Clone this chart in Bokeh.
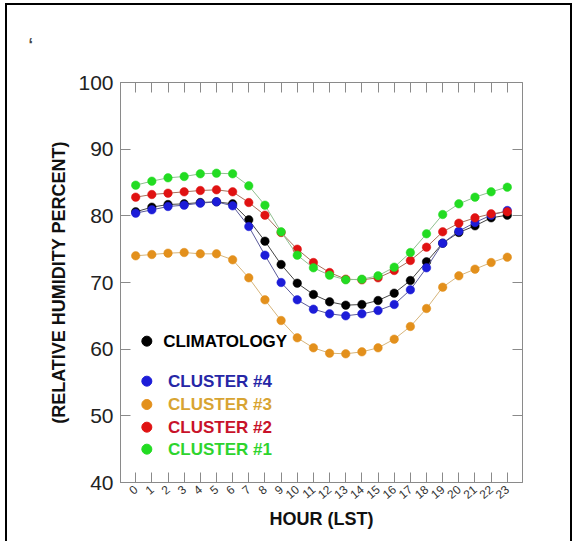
from bokeh.plotting import figure
from bokeh.models import LinearAxis, FixedTicker, Range1d, ColumnDataSource
from bokeh.core.properties import value
from bokeh.embed import file_html
from bokeh.resources import INLINE

# ---------------- data ----------------
hours = list(range(24))
hour_labels = [str(h) for h in hours]

climatology = [80.6, 81.3, 81.7, 81.8, 82.0, 82.1, 81.8, 79.4, 76.2, 72.7, 69.9, 68.2,
               67.1, 66.6, 66.7, 67.3, 68.4, 70.3, 73.1, 75.9, 77.5, 78.5, 79.7, 80.1]
cluster4 = [80.4, 80.9, 81.4, 81.6, 81.9, 82.1, 81.5, 78.4, 74.1, 70.0, 67.4, 66.0,
            65.3, 65.0, 65.3, 65.8, 66.7, 68.9, 72.2, 75.9, 77.7, 79.0, 80.1, 80.8]
cluster3 = [74.0, 74.2, 74.4, 74.5, 74.3, 74.3, 73.4, 70.7, 67.4, 64.3, 61.7, 60.2,
            59.4, 59.3, 59.6, 60.2, 61.5, 63.4, 66.1, 69.3, 71.0, 72.0, 73.0, 73.8]
cluster2 = [82.8, 83.2, 83.4, 83.6, 83.8, 83.9, 83.6, 82.0, 80.1, 77.5, 75.0, 73.0,
            71.5, 70.5, 70.4, 70.7, 71.8, 73.3, 75.3, 77.6, 78.9, 79.7, 80.3, 80.6]
cluster1 = [84.6, 85.2, 85.7, 85.9, 86.3, 86.4, 86.3, 84.5, 81.6, 77.6, 74.1, 72.2,
            71.1, 70.4, 70.5, 71.0, 72.3, 74.5, 77.3, 80.2, 81.8, 82.8, 83.6, 84.3]

series_names = ["CLIMATOLOGY", "CLUSTER #4", "CLUSTER #3", "CLUSTER #2", "CLUSTER #1"]
y_ticks = [40, 50, 60, 70, 80, 90, 100]

# ---------------- styles ----------------
FONT = "Liberation Sans"
dot_colors = {"CLIMATOLOGY": "#000000", "CLUSTER #4": "#1c1cd8", "CLUSTER #3": "#e3901c",
              "CLUSTER #2": "#e01212", "CLUSTER #1": "#22dc22"}
line_colors = {"CLIMATOLOGY": "#444444", "CLUSTER #4": "#5a5a9a", "CLUSTER #3": "#d6b47a",
               "CLUSTER #2": "#a8705a", "CLUSTER #1": "#8fbf8f"}
text_colors = {"CLIMATOLOGY": "#000000", "CLUSTER #4": "#2626a6", "CLUSTER #3": "#d8a432",
               "CLUSTER #2": "#c8122a", "CLUSTER #1": "#2ed42e"}
series = {"CLIMATOLOGY": climatology, "CLUSTER #4": cluster4, "CLUSTER #3": cluster3,
          "CLUSTER #2": cluster2, "CLUSTER #1": cluster1}
draw_order = ["CLIMATOLOGY", "CLUSTER #4", "CLUSTER #3", "CLUSTER #2", "CLUSTER #1"]

AX = "#8a8a8a"

p = figure(width=567, height=538,
           x_range=Range1d(-0.94, 23.94), y_range=Range1d(40, 100),
           output_backend="svg", toolbar_location=None,
           min_border_left=113, min_border_right=52, min_border_top=77, min_border_bottom=61)
p.styles = {"margin-left": "5px", "margin-top": "3px",
            "border-left": "2px solid black", "border-top": "2px solid black",
            "border-right": "2px solid black"}
p.grid.visible = False
p.outline_line_color = AX
p.outline_line_width = 1

# stray mark in the top-left corner of the original figure
p.title.text = "\u2018"
p.title.align = "left"
p.title.vertical_align = "top"
p.title.offset = -92
p.title.standoff = 56
p.title.text_font = FONT
p.title.text_font_size = "16px"
p.title.text_font_style = "bold"

# bottom axis
xa = p.xaxis[0]
xa.ticker = FixedTicker(ticks=hours)
xa.major_label_overrides = {h: s for h, s in zip(hours, hour_labels)}
xa.major_tick_in = 10
xa.major_tick_out = 0
xa.minor_tick_line_color = None
xa.axis_line_color = AX
xa.major_tick_line_color = AX
xa.major_label_orientation = 0.7
xa.major_label_text_font = FONT
xa.major_label_text_font_size = "12px"
xa.major_label_text_color = "#333333"
xa.major_label_standoff = 5
xa.axis_label = "HOUR (LST)"
xa.axis_label_text_font = FONT
xa.axis_label_text_font_style = "bold"
xa.axis_label_text_font_size = "18px"
xa.axis_label_text_color = "#111111"
xa.axis_label_standoff = 3

# left axis
ya = p.yaxis[0]
ya.ticker = FixedTicker(ticks=y_ticks)
ya.major_tick_in = 10
ya.major_tick_out = 0
ya.minor_tick_line_color = None
ya.axis_line_color = AX
ya.major_tick_line_color = AX
ya.major_label_text_font = FONT
ya.major_label_text_font_size = "21px"
ya.major_label_text_color = "#222222"
ya.major_label_standoff = 7
ya.axis_label = "(RELATIVE HUMIDITY PERCENT)"
ya.axis_label_text_font = FONT
ya.axis_label_text_font_style = "bold"
ya.axis_label_text_font_size = "18px"
ya.axis_label_text_color = "#111111"
ya.axis_label_standoff = 6

# right & top axes (ticks only, labels not drawn)
ra = LinearAxis(ticker=FixedTicker(ticks=y_ticks[1:-1]), major_tick_in=10, major_tick_out=0,
                minor_tick_line_color=None, axis_line_color=AX, major_tick_line_color=AX,
                major_label_text_color=None, major_label_text_font_size="8px",
                major_label_standoff=0)
p.add_layout(ra, "right")
ta = LinearAxis(ticker=FixedTicker(ticks=hours), major_tick_in=10, major_tick_out=0,
                minor_tick_line_color=None, axis_line_color=AX, major_tick_line_color=AX,
                major_label_text_color=None, major_label_text_font_size="8px",
                major_label_standoff=0)
p.add_layout(ta, "above")

# series
for name in draw_order:
    src = ColumnDataSource(dict(x=hours, y=series[name]))
    p.line("x", "y", source=src, line_color=line_colors[name], line_width=1)
    p.scatter("x", "y", source=src, size=8.5, fill_color=dot_colors[name],
              line_color=dot_colors[name], line_width=0.5)

# custom legend
leg_dot_x = 0.69
leg_text_x = [1.7, 2.0, 2.0, 2.0, 2.0]
leg_y = [61.2, 55.2, 51.7, 48.3, 45.0]
leg_src = ColumnDataSource(dict(
    dx=[leg_dot_x] * len(series_names), tx=leg_text_x, y=leg_y, text=series_names,
    dc=[dot_colors[n] for n in series_names], tc=[text_colors[n] for n in series_names]))
p.scatter("dx", "y", source=leg_src, size=10, fill_color="dc", line_color="dc")
p.text("tx", "y", text="text", source=leg_src, text_color="tc",
       text_font=value(FONT), text_font_style="bold", text_font_size="17px",
       text_baseline="middle", text_align="left")

open("out.html", "w").write(file_html(p, INLINE))
